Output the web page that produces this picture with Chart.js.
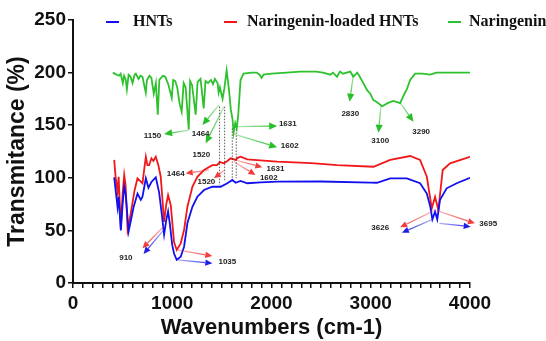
<!DOCTYPE html>
<html>
<head>
<meta charset="utf-8">
<script src="https://cdn.jsdelivr.net/npm/chart.js@4"></script>
<style>
  html, body { margin: 0; padding: 0; background: white; }
  #wrap { width: 546px; height: 341px; }
</style>
</head>
<body>
<div id="wrap"><canvas id="chart" width="546" height="341"></canvas></div>
<script>
// series names
const seriesNames = ["HNTs", "Naringenin-loaded HNTs", "Naringenin"];

// wavenumber / transmitance pairs
const hntsWn = [415, 430, 449, 460, 482, 500, 516, 530, 545, 560, 580, 610, 650, 683, 700, 734, 760, 790, 834, 868, 894, 918, 940, 958, 975, 1000, 1018, 1045, 1085, 1119, 1153, 1203, 1253, 1320, 1404, 1487, 1555, 1605, 1638, 1688, 1756, 1890, 2057, 2500, 3000, 3062, 3196, 3364, 3497, 3565, 3600, 3621, 3648, 3670, 3698, 3765, 3866, 4000];
const hntsT = [100.5, 88, 72, 82, 50, 75, 91.5, 85, 68, 49, 58, 72, 85, 79, 82, 99.5, 90.5, 96, 100.5, 86, 66, 46, 60, 68, 57, 36, 28, 22, 25, 34.5, 57, 72.5, 82, 88.4, 91.5, 91.5, 94.8, 98, 95.3, 97, 94.8, 95.7, 96.3, 96.5, 95.5, 95.3, 99.5, 99.5, 94.8, 85, 72.5, 60.5, 67.8, 60.5, 79, 90, 94.8, 100];

const loadedWn = [415, 430, 449, 460, 482, 500, 516, 530, 550, 580, 620, 650, 700, 720, 734, 750, 767, 790, 810, 834, 860, 884, 918, 940, 958, 985, 1018, 1045, 1085, 1119, 1153, 1203, 1253, 1320, 1404, 1450, 1480, 1521, 1555, 1588, 1638, 1660, 1688, 1756, 2057, 2400, 2660, 3028, 3196, 3397, 3497, 3565, 3615, 3648, 3681, 3725, 3799, 4000];
const loadedT = [117, 100, 87, 101, 52, 85, 102.7, 93, 50.4, 65, 88, 99.5, 94.8, 110, 120, 112, 112, 118.5, 116, 120, 112, 101, 58, 75, 83.6, 74, 39, 31.4, 37.7, 50.4, 72.5, 91.5, 101, 107.4, 112, 112, 115, 113.8, 116, 118.5, 117, 119, 120, 117.6, 115.3, 114, 112, 110.5, 117, 120.7, 117, 101, 71, 82, 69.4, 107.4, 113.8, 120];

const naringWn = [400, 412, 440, 462, 480, 502, 515, 530, 543, 560, 580, 600, 620, 633, 660, 680, 700, 733, 745, 770, 790, 814, 835, 854, 870, 905, 930, 960, 995, 1010, 1030, 1050, 1075, 1095, 1115, 1135, 1166, 1180, 1200, 1236, 1255, 1285, 1317, 1335, 1360, 1390, 1410, 1430, 1457, 1467, 1480, 1507, 1525, 1548, 1570, 1590, 1608, 1618, 1635, 1650, 1665, 1688, 1719, 1800, 1850, 1880, 1900, 1920, 2000, 2150, 2290, 2450, 2520, 2593, 2620, 2660, 2690, 2720, 2794, 2824, 2864, 2890, 2925, 2965, 2995, 3025, 3060, 3116, 3170, 3226, 3296, 3330, 3367, 3397, 3447, 3520, 3600, 3660, 3750, 3850, 4000];
const naringT = [199, 199.5, 198, 197, 199, 190, 197, 194, 184, 198, 196, 190, 198, 199, 194, 197, 196, 181, 193, 197, 195, 180, 190, 160, 193, 197, 196, 189, 176, 193, 192, 186, 170, 163, 190, 186, 146, 192, 188, 160, 191, 194, 166, 192, 190, 193, 189, 194, 190, 181, 186, 175, 185, 202, 185, 165, 155, 143, 152, 147, 160, 193, 199, 200, 200, 198, 195, 198, 199, 200, 201, 201, 200, 198, 200, 196, 201, 199, 201, 196, 200, 196, 190, 183, 180, 174, 172, 168, 171, 173, 171, 178, 185, 193, 199, 199, 198, 200, 200, 200, 200];

// peak annotations: [fromWn, fromT, toWn, toT]
const greenArrows = [
  [1169, 145.4, 918, 141.6],
  [1470, 169.2, 1304, 150.2],
  [1521, 167.6, 1337, 132.8],
  [1638, 148.6, 2057, 149.2],
  [1621, 141.6, 2057, 129],
  [2827, 199.3, 2787, 172.3],
  [3103, 169.2, 3078, 142.9],
  [3296, 171.4, 3430, 153.3],
];
const redArrows = [
  [1370, 107.4, 1136, 104.3],
  [1528, 107.4, 1420, 99.5],
  [1638, 116.9, 1907, 110],
  [1621, 115.3, 1839, 102.7],
  [918, 54.2, 700, 33],
  [1052, 31.4, 1404, 25.7],
  [3648, 69.4, 3296, 52.9],
  [3665, 68.7, 4050, 56.7],
];
const blueArrows = [
  [918, 51, 711, 27.6],
  [1052, 21.9, 1404, 18.7],
  [3625, 60.6, 3314, 47.8],
  [3692, 56.7, 4007, 53.5],
];
// [text, wn, T]
const peakLabels = [
  ["1150", 801, 139.7],
  ["1464", 1286, 142.3],
  ["1520", 1293, 121.7],
  ["1631", 2164, 151.1],
  ["1602", 2184, 130.2],
  ["2830", 2794, 161.3],
  ["3100", 3095, 135.3],
  ["3290", 3508, 143.8],
  ["1464", 1035, 103.6],
  ["1520", 1344, 96],
  ["1631", 2040, 109],
  ["1602", 1973, 100.1],
  ["910", 533, 24.4],
  ["1035", 1555, 20.2],
  ["3626", 3095, 52.9],
  ["3695", 4184, 56.1],
];
// dotted guide lines: [wn, topT, bottomT]
const guides = [
  [1477, 167.6, 93],
  [1528, 167.6, 96.4],
  [1605, 147, 99.6],
  [1645, 146, 99.6],
];

const toPts = (xs, ys) => xs.map((v, i) => ({ x: v, y: ys[i] }));

const colBlue = "#1010f0";
const colRed = "#f01818";
const colGreen = "#2ec12e";

const drawArrow = (ctx, x1, y1, x2, y2, rgb, head) => {
  const grad = ctx.createLinearGradient(x1, y1, x2, y2);
  grad.addColorStop(0, "rgba(" + rgb + ",0.35)");
  grad.addColorStop(1, "rgba(" + rgb + ",0.95)");
  const a = Math.atan2(y2 - y1, x2 - x1);
  const bx = x2 - head * Math.cos(a);
  const by = y2 - head * Math.sin(a);
  ctx.strokeStyle = grad;
  ctx.lineWidth = 1.3;
  ctx.beginPath();
  ctx.moveTo(x1, y1);
  ctx.lineTo(bx, by);
  ctx.stroke();
  ctx.fillStyle = "rgb(" + rgb + ")";
  ctx.beginPath();
  ctx.moveTo(x2, y2);
  ctx.lineTo(bx + (head * 0.45) * Math.sin(a), by - (head * 0.45) * Math.cos(a));
  ctx.lineTo(bx - (head * 0.45) * Math.sin(a), by + (head * 0.45) * Math.cos(a));
  ctx.closePath();
  ctx.fill();
};

const peaksPlugin = {
  id: "peaks",
  afterDatasetsDraw(chart) {
    const ctx = chart.ctx;
    const xs = chart.scales.x;
    const ys = chart.scales.y;
    const px = (v) => xs.getPixelForValue(v);
    const py = (v) => ys.getPixelForValue(v);
    ctx.save();

    ctx.strokeStyle = "#333";
    ctx.lineWidth = 0.8;
    ctx.setLineDash([1.5, 1.5]);
    guides.forEach((g) => {
      ctx.beginPath();
      ctx.moveTo(px(g[0]), py(g[1]));
      ctx.lineTo(px(g[0]), py(g[2]));
      ctx.stroke();
    });
    ctx.setLineDash([]);

    greenArrows.forEach((a) => drawArrow(ctx, px(a[0]), py(a[1]), px(a[2]), py(a[3]), "40,190,40", 8));
    redArrows.forEach((a) => drawArrow(ctx, px(a[0]), py(a[1]), px(a[2]), py(a[3]), "240,60,60", 7));
    blueArrows.forEach((a) => drawArrow(ctx, px(a[0]), py(a[1]), px(a[2]), py(a[3]), "30,30,230", 7));

    ctx.fillStyle = "#222";
    ctx.font = "bold 8px 'Liberation Sans', Arial, sans-serif";
    ctx.textAlign = "center";
    ctx.textBaseline = "middle";
    peakLabels.forEach((l) => ctx.fillText(l[0], px(l[1]), py(l[2])));
    ctx.restore();
  },
  afterDraw(chart) {
    // legend across the top, over the plot
    const ctx = chart.ctx;
    const cols = [colBlue, colRed, colGreen];
    const lineX = [106, 224, 448];
    const textX = [133, 247, 469];
    ctx.save();
    ctx.font = "bold 16px 'Liberation Serif', 'Times New Roman', serif";
    ctx.textBaseline = "middle";
    ctx.textAlign = "left";
    seriesNames.forEach((n, i) => {
      ctx.strokeStyle = cols[i];
      ctx.lineWidth = 2;
      ctx.beginPath();
      ctx.moveTo(lineX[i], 22);
      ctx.lineTo(lineX[i] + 13, 22);
      ctx.stroke();
      ctx.fillStyle = "#111";
      ctx.fillText(n, textX[i], 22);
    });
    ctx.restore();
  },
};

const tickFont = { family: "'Liberation Sans', Arial, sans-serif", size: 19, weight: "bold" };
const xTitleFont = { family: "'Liberation Sans', Arial, sans-serif", size: 22, weight: "bold" };
const yTitleFont = { family: "'Liberation Sans', Arial, sans-serif", size: 23, weight: "bold" };

new Chart(document.getElementById("chart"), {
  type: "line",
  data: {
    datasets: [
      { label: seriesNames[0], data: toPts(hntsWn, hntsT), borderColor: colBlue, borderWidth: 1.8, pointRadius: 0, fill: false },
      { label: seriesNames[1], data: toPts(loadedWn, loadedT), borderColor: colRed, borderWidth: 1.8, pointRadius: 0, fill: false },
      { label: seriesNames[2], data: toPts(naringWn, naringT), borderColor: colGreen, borderWidth: 1.8, pointRadius: 0, fill: false },
    ],
  },
  options: {
    responsive: false,
    animation: false,
    events: [],
    layout: { padding: { left: 0, right: 76, top: 20, bottom: 0 } },
    plugins: { legend: { display: false }, tooltip: { enabled: false } },
    scales: {
      x: {
        type: "linear",
        min: 0,
        max: 4000,
        afterFit: (s) => { s.height = 58; },
        ticks: {
          stepSize: 100,
          autoSkip: false,
          maxRotation: 0,
          color: "#111",
          font: tickFont,
          padding: 4,
          callback: (v) => (v % 1000 === 0 ? String(v) : ""),
        },
        grid: { drawOnChartArea: false, drawTicks: true, tickLength: 5, color: "#111", lineWidth: 1.5 },
        border: { display: true, color: "#111", width: 2 },
        title: { display: true, text: "Wavenumbers (cm-1)", color: "#111", font: xTitleFont, padding: { top: 6, bottom: 0 } },
      },
      y: {
        type: "linear",
        min: 0,
        max: 250,
        afterFit: (s) => { s.width = 73; },
        ticks: { stepSize: 50, color: "#111", font: tickFont, padding: 2 },
        grid: { drawOnChartArea: false, drawTicks: true, tickLength: 5, color: "#111", lineWidth: 1.5 },
        border: { display: true, color: "#111", width: 2 },
        title: { display: true, text: "Transmitance (%)", color: "#111", font: yTitleFont, padding: { top: 4, bottom: 0 } },
      },
    },
  },
  plugins: [peaksPlugin],
});
</script>
</body>
</html>
